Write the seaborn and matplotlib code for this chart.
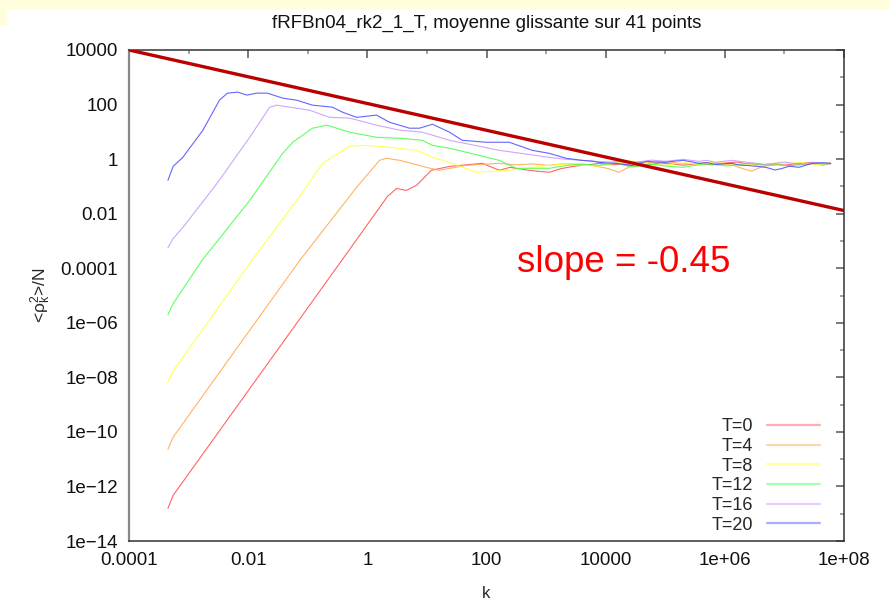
"""Smoothed power spectra <rho_k^2>/N for several T, log-log."""

import matplotlib

matplotlib.use("Agg")

import matplotlib.pyplot as plt
import pandas as pd
import seaborn as sns
from matplotlib.lines import Line2D
from matplotlib.patches import Rectangle
from matplotlib.ticker import FixedLocator, FixedFormatter, NullFormatter

TITLE = "fRFBn04_rk2_1_T, moyenne glissante sur 41 points"

series_labels = ["T=0", "T=4", "T=8", "T=12", "T=16", "T=20"]
series_colors = ["#ff4a4a", "#ffa64a", "#ffff3a", "#45ff45", "#c596ff", "#4a4aff"]

k_t0 = [4.5e-4, 5.5e-4, 0.37, 2.18, 3.1, 4.5, 6.7, 9.8, 11.9, 24, 85, 164, 250, 400,
        700, 1130, 1800, 3000, 5000, 7760, 1.2e4, 2e4, 3e4, 5e4, 8e4, 1.3e5, 2e5,
        3.66e5, 6e5, 1e6, 1.6e6, 2.5e6, 4e6, 6e6, 1e7, 1.74e7, 3e7, 4.5e7, 5.97e7]
y_t0 = [1.58e-13, 4.7e-13, 1.9e-4, 0.043, 0.084, 0.071, 0.109, 0.254, 0.39, 0.54,
        0.70, 0.39, 0.50, 0.42, 0.36, 0.33, 0.45, 0.55, 0.62, 0.70, 0.62, 0.66, 0.55,
        0.62, 0.72, 0.66, 0.60, 0.68, 0.62, 0.72, 0.78, 0.66, 0.60, 0.68, 0.60, 0.70,
        0.76, 0.66, 0.72]

k_t4 = [4.5e-4, 5.5e-4, 0.073, 0.66, 1.6, 2.1, 3.5, 9.8, 16, 46, 164, 300, 600, 1130,
        2000, 4030, 7000, 1.1e4, 1.67e4, 2.2e4, 2.77e4, 4.5e4, 7e4, 1e5, 1.6e5, 2.5e5,
        3.66e5, 6e5, 9e5, 1.31e6, 2e6, 2.8e6, 4e6, 6e6, 8e6, 1.2e7, 1.74e7, 3e7,
        4.5e7, 5.97e7]
y_t4 = [2.3e-11, 6.4e-11, 1.9e-4, 0.092, 0.90, 1.07, 0.90, 0.50, 0.39, 0.59, 0.70,
        0.62, 0.66, 0.59, 0.68, 0.64, 0.55, 0.45, 0.33, 0.45, 0.59, 0.72, 0.78, 0.83,
        0.72, 0.66, 0.70, 0.76, 0.66, 0.62, 0.45, 0.36, 0.50, 0.62, 0.66, 0.58, 0.62,
        0.66, 0.60, 0.70]

k_t8 = [4.5e-4, 5.5e-4, 0.0115, 0.065, 0.178, 0.50, 0.97, 2.35, 6.7, 12.4, 24, 67,
        241, 766, 1200, 2170, 4000, 7760, 1.2e4, 2e4, 2.77e4, 4e4, 6e4, 1e5, 1.5e5,
        2.2e5, 3.66e5, 5e5, 7e5, 1e6, 1.5e6, 2.5e6, 3.7e6, 5.5e6, 8e6, 1.2e7, 1.74e7,
        2.5e7, 4e7, 5.97e7]
y_t8 = [6.8e-9, 1.7e-8, 1.9e-4, 0.0305, 0.70, 2.96, 3.2, 2.7, 2.1, 1.16, 0.76, 0.33,
        0.39, 0.54, 0.60, 0.66, 0.60, 0.56, 0.66, 0.78, 0.86, 0.74, 0.66, 0.60, 0.68,
        0.74, 0.64, 0.70, 0.78, 0.70, 0.62, 0.66, 0.58, 0.66, 0.74, 0.68, 0.78, 0.70,
        0.64, 0.72]

k_t12 = [4.5e-4, 5.5e-4, 1.67e-3, 0.0106, 0.038, 0.056, 0.12, 0.21, 0.50, 1.43, 3.5,
         8.4, 12.4, 24, 46, 164, 316, 1130, 1800, 2500, 4000, 7760, 1.1e4, 1.5e4, 2e4,
         2.77e4, 4e4, 5.3e4, 8e4, 1.2e5, 2e5, 3e5, 4.5e5, 7e5, 1.1e6, 1.6e6, 2.5e6,
         3.7e6, 5.5e6, 8e6, 1.2e7, 1.74e7, 3e7, 4.5e7, 5.97e7]
y_t12 = [1.97e-6, 5.0e-6, 1.9e-4, 0.0305, 1.63, 4.15, 13.6, 17.5, 9.7, 6.3, 5.8, 4.9,
         3.2, 2.5, 1.78, 0.90, 0.46, 0.46, 0.55, 0.60, 0.66, 0.59, 0.66, 0.72, 0.60,
         0.52, 0.58, 0.66, 0.60, 0.54, 0.50, 0.58, 0.66, 0.62, 0.56, 0.62, 0.70, 0.66,
         0.58, 0.62, 0.56, 0.62, 0.72, 0.66, 0.68]

k_t16 = [4.5e-4, 5.5e-4, 8.0e-4, 3.0e-3, 0.0106, 0.023, 0.030, 0.050, 0.108, 0.233,
         0.50, 1.43, 3.5, 8.4, 24, 164, 1130, 2000, 4030, 7000, 1.2e4, 2e4, 2.77e4,
         4e4, 6e4, 1e5, 1.4e5, 2e5, 2.7e5, 3.66e5, 5e5, 7e5, 1e6, 1.31e6, 2e6, 3e6,
         4.86e6, 7e6, 1e7, 1.4e7, 2e7, 3e7, 4.5e7, 5.97e7]
y_t16 = [5.7e-4, 1.22e-3, 3.1e-3, 0.129, 6.3, 80, 95, 80, 62, 34, 32, 17.5, 11.5, 9.7,
         4.9, 2.1, 1.16, 1.0, 0.90, 0.82, 0.78, 0.84, 0.76, 0.82, 0.92, 0.83, 0.90,
         0.98, 0.90, 0.83, 0.90, 0.76, 0.84, 0.90, 0.80, 0.72, 0.64, 0.70, 0.78, 0.70,
         0.64, 0.76, 0.70, 0.66]

k_t20 = [4.5e-4, 5.5e-4, 8.0e-4, 1.74e-3, 3.3e-3, 4.5e-3, 6.7e-3, 9.5e-3, 0.014,
         0.021, 0.038, 0.065, 0.12, 0.26, 0.38, 0.66, 1.43, 2.35, 5.1, 7.5, 12.4, 24,
         39, 99, 241, 585, 1130, 1600, 2170, 3000, 4030, 6000, 7760, 1.1e4, 1.5e4,
         2e4, 2.77e4, 3.5e4, 5e4, 7e4, 1.03e5, 1.4e5, 2e5, 2.7e5, 3.66e5, 5e5, 7e5,
         1e6, 1.31e6, 1.8e6, 2.5e6, 3.5e6, 4.86e6, 7e6, 9e6, 1.2e7, 1.74e7, 2.3e7,
         3e7, 4.5e7, 5.97e7]
y_t20 = [0.166, 0.54, 1.16, 11.5, 145, 262, 286, 222, 262, 262, 172, 145, 95, 80, 53,
         34, 41, 22.5, 13.6, 13.6, 19, 9.7, 4.9, 4.15, 4.15, 2.1, 1.63, 1.30, 1.07,
         0.98, 0.90, 0.84, 0.76, 0.72, 0.70, 0.64, 0.59, 0.70, 0.83, 0.78, 0.76, 0.84,
         0.90, 0.80, 0.70, 0.74, 0.64, 0.68, 0.70, 0.60, 0.58, 0.54, 0.50, 0.40, 0.45,
         0.55, 0.50, 0.60, 0.70, 0.74, 0.70]

# fitted power law drawn on top
fit_k = [1e-4, 1e8]
fit_y = [1e4, 1.3e-2]
SLOPE_TEXT = "slope = -0.45"

x_ticks = [1e-4, 1e-2, 1, 1e2, 1e4, 1e6, 1e8]
x_tick_labels = ["0.0001", "0.01", "1", "100", "10000", "1e+06", "1e+08"]
x_minor = [1e-3, 1e-1, 1e1, 1e3, 1e5, 1e7]
y_ticks = [1e4, 1e2, 1, 1e-2, 1e-4, 1e-6, 1e-8, 1e-10, 1e-12, 1e-14]
y_tick_labels = ["10000", "100", "1", "0.01", "0.0001", "1e\u221206", "1e\u221208",
                 "1e\u221210", "1e\u221212", "1e\u221214"]
y_minor = [1e3, 1e1, 1e-1, 1e-3, 1e-5, 1e-7, 1e-9, 1e-11, 1e-13]

all_k = [k_t0, k_t4, k_t8, k_t12, k_t16, k_t20]
all_y = [y_t0, y_t4, y_t8, y_t12, y_t16, y_t20]
frames = [
    pd.DataFrame({"k": ks, "rho": ys, "T": label})
    for ks, ys, label in zip(all_k, all_y, series_labels)
]
df = pd.concat(frames, ignore_index=True)

sns.set_style("white")
plt.rcParams["font.family"] = ["Liberation Sans", "DejaVu Sans"]
plt.rcParams["mathtext.default"] = "regular"

fig = plt.figure(figsize=(8.89, 6.09), dpi=100)
# slide background peeking in at the top-left
fig.patches.append(Rectangle((0, 1 - 8 / 609), 1, 8 / 609, transform=fig.transFigure,
                             color="#fffddc", zorder=0))
fig.patches.append(Rectangle((0, 1 - 24 / 609), 6 / 889, 24 / 609,
                             transform=fig.transFigure, color="#fffddc", zorder=0))
ax = fig.add_axes([129 / 889, 1 - 541 / 609, (844 - 129) / 889, (541 - 50) / 609])
ax.set_xscale("log")
ax.set_yscale("log")

sns.lineplot(data=df, x="k", y="rho", hue="T", hue_order=series_labels,
             palette=series_colors, estimator=None, sort=False, lw=0.8, alpha=0.85,
             legend=False, ax=ax)
ax.plot(fit_k, fit_y, color="#bb0000", lw=2.4, solid_capstyle="butt", zorder=5)

ax.set_xlim(1e-4, 1e8)
ax.set_ylim(1e-14, 1e4)
ax.xaxis.set_major_locator(FixedLocator(x_ticks))
ax.xaxis.set_major_formatter(FixedFormatter(x_tick_labels))
ax.xaxis.set_minor_locator(FixedLocator(x_minor))
ax.xaxis.set_minor_formatter(NullFormatter())
ax.yaxis.set_major_locator(FixedLocator(y_ticks))
ax.yaxis.set_major_formatter(FixedFormatter(y_tick_labels))
ax.yaxis.set_minor_locator(FixedLocator(y_minor))
ax.yaxis.set_minor_formatter(NullFormatter())
ax.tick_params(which="both", direction="in", top=True, right=True,
               labelsize=13.5, labelcolor="#111111")
ax.tick_params(which="major", length=6, width=1.1, color="#555555", pad=8)
ax.tick_params(which="minor", length=3, width=1.1, color="#888888")

for side in ["top", "right", "bottom"]:
    ax.spines[side].set_color("#333333")
    ax.spines[side].set_linewidth(1.1)
ax.spines["left"].set_color("#888888")
ax.spines["left"].set_linewidth(1.6)

ax.set_title(TITLE, fontsize=13.5, pad=16, color="#111111")
ax.set_xlabel("k", fontsize=12, labelpad=12)
ax.set_ylabel(r"<$\rho_k^2$>/N", fontsize=12.5, labelpad=5)

ax.text(10 ** 2.52, 10 ** -3.8, SLOPE_TEXT, color="#ff0000", fontsize=26.5,
        ha="left", va="center")

handles = [Line2D([], [], color=c, lw=1.6, alpha=0.45) for c in series_colors]
ax.legend(handles, series_labels, loc="lower right", frameon=False, fontsize=13,
          markerfirst=False, handlelength=2.9, handletextpad=0.8,
          labelspacing=0.15, borderaxespad=0.0, bbox_to_anchor=(0.976, 0.0))

fig.savefig("out.png", dpi=100)
plt.close(fig)
